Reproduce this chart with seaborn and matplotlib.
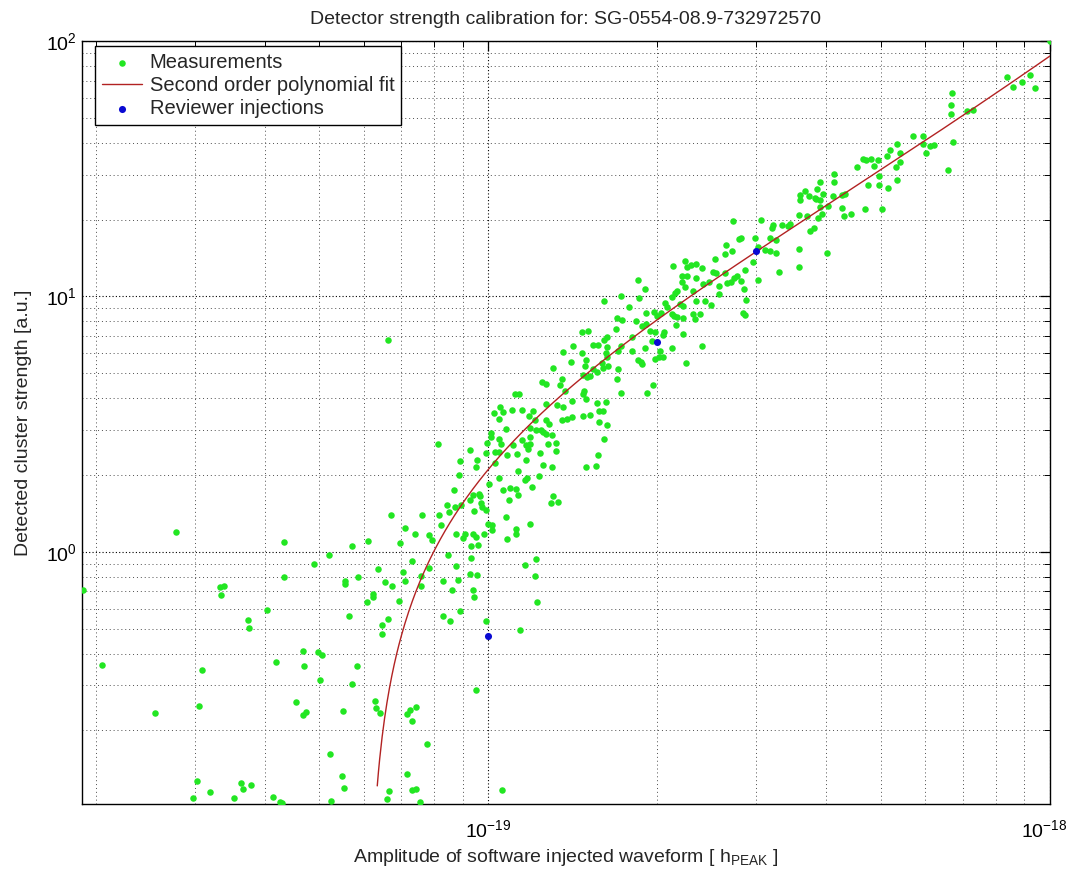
import numpy as np
import pandas as pd
import matplotlib
matplotlib.use("Agg")
import matplotlib.pyplot as plt
import matplotlib.transforms as mtransforms
import seaborn as sns
from matplotlib.ticker import LogLocator, NullFormatter, LogFormatterMathtext

# amplitudes are given in units of 1e-19 (h_peak)
AMP_UNIT = 1e-19

meas_amp = [
    0.19, 0.205, 0.255, 0.278, 0.298, 0.303, 0.306, 0.309, 0.32, 0.333,
    0.338, 0.334, 0.352, 0.363, 0.366, 0.373, 0.375, 0.378, 0.403, 0.414,
    0.418, 0.426, 0.429, 0.432, 0.433, 0.454, 0.467, 0.468, 0.470, 0.474,
    0.489, 0.498, 0.506, 0.501, 0.521, 0.523, 0.525, 0.548, 0.553, 0.550,
    0.556, 0.556, 0.565, 0.573, 0.573, 0.583, 0.586, 0.607, 0.611, 0.622,
    0.623, 0.628, 0.630, 0.635, 0.642, 0.647, 0.647, 0.654, 0.659, 0.664,
    0.665, 0.674, 0.694, 0.710, 0.717, 0.717, 0.726, 0.731, 0.731, 0.744,
    0.744, 0.756, 0.759, 0.779, 0.831, 0.831, 0.856, 0.863, 0.884, 0.889,
    0.939, 0.942, 0.951, 0.992, 1.057, 1.139, 1.223, 0.664, 1.248, 1.265,
    1.342, 1.117, 1.136, 1.370, 1.267, 1.324, 1.357, 1.408, 1.049, 1.022,
    1.063, 1.101, 1.150, 1.202, 1.182, 1.046, 1.211, 1.265, 1.283, 1.351,
    1.379, 1.409, 1.077, 1.188, 1.214, 1.243, 1.253, 1.265, 1.297, 1.010,
    1.012, 1.043, 1.150, 1.185, 1.185, 1.167, 1.178, 1.053, 1.105, 0.995,
    0.813, 0.928, 0.991, 1.028, 1.045, 1.081, 1.124, 1.236, 1.277, 1.320,
    1.320, 0.890, 0.955, 1.029, 1.166, 0.952, 1.250, 1.299, 1.131, 0.886,
    1.046, 1.161, 1.172, 1.231, 1.002, 1.198, 0.869, 1.063, 1.094, 1.119,
    1.129, 0.938, 0.963, 0.968, 0.927, 1.090, 1.304, 1.293, 1.332, 0.893,
    0.871, 0.844, 0.971, 0.976, 0.989, 0.944, 0.852, 0.816, 0.762, 0.670,
    1.075, 1.000, 1.014, 0.824, 0.712, 1.188, 1.120, 1.120, 0.940, 0.950,
    0.981, 0.876, 0.785, 0.740, 0.900, 0.795, 1.080, 0.697, 0.959, 0.932,
    0.849, 0.731, 0.930, 1.214, 1.164, 0.784, 0.877, 0.706, 0.758, 0.927,
    0.956, 1.212, 0.909, 1.014, 2.238, 2.294, 2.341, 2.256, 2.130, 2.399,
    2.537, 2.510, 2.544, 2.211, 2.259, 2.341, 2.211, 2.240, 2.415, 2.470,
    2.318, 1.850, 1.899, 1.721, 1.607, 1.855, 2.148, 2.121, 2.165, 2.066,
    2.084, 2.194, 2.225, 2.341, 2.432, 2.495, 2.572, 1.780, 1.975, 1.909,
    2.121, 2.141, 2.171, 2.219, 2.312, 2.382, 2.334, 2.028, 1.994, 2.156,
    1.693, 1.730, 1.835, 1.909, 1.876, 1.686, 1.941, 1.979, 2.058, 2.044,
    2.222, 1.469, 1.507, 1.609, 1.625, 1.801, 1.954, 1.417, 1.538, 1.566,
    1.627, 1.721, 1.901, 2.124, 2.405, 1.360, 1.469, 1.622, 1.704, 1.803,
    2.022, 1.491, 1.404, 1.592, 1.850, 1.868, 1.981, 2.016, 2.044, 1.627,
    1.632, 1.602, 1.306, 1.485, 1.536, 2.247, 1.876, 1.700, 1.519, 1.497,
    1.564, 1.476, 1.351, 1.697, 1.967, 1.915, 1.723, 1.481, 1.476, 1.491,
    1.560, 1.622, 1.517, 1.476, 1.575, 1.601, 1.573, 1.625, 1.605, 1.568,
    1.495, 1.553, 4.655, 4.70, 4.80, 4.94, 4.54, 4.87, 4.96, 4.74,
    4.97, 4.13, 4.12, 3.90, 3.85, 3.66, 3.59, 3.72, 3.81, 3.83,
    3.95, 3.90, 3.59, 4.11, 4.32, 4.27, 4.03, 3.89, 4.26, 4.68,
    3.93, 4.42, 4.29, 3.57, 3.69, 3.87, 3.06, 2.73, 3.21, 3.20,
    3.33, 3.41, 3.44, 3.80, 3.74, 2.82, 2.79, 2.99, 3.17, 3.25,
    2.65, 3.02, 2.72, 2.64, 3.11, 3.18, 3.25, 3.58, 4.01, 2.96,
    3.58, 3.29, 2.87, 2.64, 2.77, 2.82, 2.74, 2.71, 2.66, 3.02,
    2.85, 2.57, 2.88, 2.84, 2.86, 5.02, 5.14, 5.12, 5.19, 5.34,
    5.41, 5.32, 5.41, 5.34, 5.71, 5.94, 5.94, 6.02, 6.12, 6.22,
    6.58, 6.71, 6.66, 6.66, 6.70, 7.11, 7.28, 8.38, 8.58, 8.93,
    9.22, 9.41, 10.0,
]

meas_strength = [
    0.71, 0.36, 0.235, 1.2, 0.109, 0.127, 0.249, 0.345, 0.115, 0.73,
    0.735, 0.68, 0.109, 0.124, 0.118, 0.54, 0.503, 0.122, 0.59, 0.110,
    0.369, 0.105, 0.104, 1.09, 0.80, 0.259, 0.229, 0.41, 0.356, 0.236,
    0.894, 0.405, 0.396, 0.315, 0.973, 0.162, 0.106, 0.133, 0.119, 0.238,
    0.772, 0.746, 0.559, 1.056, 0.304, 0.356, 0.798, 0.638, 1.107, 0.686,
    0.664, 0.260, 0.244, 0.86, 0.233, 0.517, 0.475, 0.763, 0.108, 0.544,
    0.116, 0.733, 0.644, 0.770, 0.135, 0.232, 0.241, 0.218, 0.117, 0.118,
    0.247, 0.105, 0.733, 0.177, 0.770, 0.559, 0.538, 0.712, 0.777, 0.585,
    0.707, 0.666, 0.287, 0.538, 0.117, 0.493, 0.637, 6.76, 4.63, 4.54,
    4.49, 4.14, 4.14, 4.26, 3.81, 3.75, 3.69, 3.90, 3.69, 3.49,
    3.54, 3.59, 3.59, 3.56, 3.40, 3.30, 3.28, 3.27, 3.18, 3.27,
    3.32, 3.37, 3.04, 3.05, 3.00, 3.00, 2.96, 2.90, 2.88, 2.93,
    2.82, 2.76, 2.73, 2.82, 2.64, 2.62, 2.52, 2.64, 2.62, 2.66,
    2.64, 2.50, 2.44, 2.47, 2.46, 2.39, 2.42, 2.44, 2.64, 2.66,
    2.49, 2.27, 2.29, 2.23, 2.28, 2.14, 2.18, 2.14, 2.07, 2.00,
    1.94, 1.92, 1.94, 1.98, 1.85, 1.79, 1.74, 1.74, 1.78, 1.76,
    1.67, 1.67, 1.68, 1.65, 1.60, 1.59, 1.65, 1.56, 1.57, 1.52,
    1.50, 1.52, 1.56, 1.50, 1.46, 1.44, 1.43, 1.39, 1.40, 1.40,
    1.37, 1.29, 1.27, 1.28, 1.24, 1.29, 1.23, 1.17, 1.18, 1.14,
    1.17, 1.18, 1.16, 1.17, 1.13, 1.11, 1.12, 1.08, 1.06, 1.05,
    0.973, 0.922, 0.944, 0.935, 0.886, 0.868, 0.878, 0.832, 0.802, 0.822,
    0.815, 0.802, 1.18, 1.22, 13.8, 13.3, 13.4, 13.1, 13.2, 12.9,
    14.0, 12.5, 12.3, 12.0, 12.0, 11.8, 11.35, 10.85, 11.2, 11.35,
    10.5, 11.6, 10.7, 10.06, 9.59, 9.82, 10.3, 9.91, 10.5, 9.41,
    9.10, 9.33, 9.19, 9.61, 9.61, 9.25, 10.2, 9.10, 8.73, 8.60,
    8.50, 8.35, 8.29, 8.27, 8.52, 8.52, 8.15, 8.60, 8.35, 7.72,
    8.27, 8.10, 8.02, 7.79, 7.63, 7.44, 7.33, 7.23, 7.23, 7.05,
    7.14, 7.23, 7.33, 6.74, 6.93, 6.97, 6.70, 6.37, 6.43, 6.43,
    6.35, 6.40, 6.27, 6.31, 6.37, 6.07, 5.98, 6.03, 6.12, 6.12,
    6.12, 5.63, 5.54, 5.51, 5.64, 5.56, 5.68, 5.77, 5.82, 5.77,
    5.34, 5.27, 5.23, 5.34, 5.19, 5.48, 5.43, 5.19, 4.88, 4.84,
    5.06, 4.91, 4.77, 4.77, 4.50, 4.18, 4.18, 4.26, 4.14, 3.96,
    3.84, 3.86, 3.45, 3.40, 3.56, 3.56, 3.22, 3.13, 2.76, 2.39,
    2.14, 2.16, 34.6, 34.3, 34.6, 34.3, 32.1, 32.5, 29.7, 27.4,
    27.2, 30.2, 28.1, 28.0, 26.4, 25.9, 25.0, 24.8, 24.4, 24.1,
    25.1, 23.9, 23.9, 24.7, 25.2, 25.0, 22.7, 22.4, 22.2, 21.9,
    21.0, 21.0, 20.6, 20.8, 20.7, 20.2, 19.9, 19.7, 19.0, 18.5,
    19.0, 18.9, 19.2, 18.6, 18.1, 17.0, 16.8, 16.9, 16.9, 16.7,
    15.9, 15.6, 15.1, 14.65, 15.2, 15.1, 14.75, 15.3, 14.75, 13.7,
    13.1, 12.5, 12.7, 12.3, 12.0, 11.5, 11.8, 11.35, 11.3, 11.6,
    10.7, 11.0, 9.70, 8.58, 8.45, 22.0, 26.5, 35.6, 37.6, 39.6,
    36.4, 32.2, 33.7, 28.7, 42.3, 42.6, 39.6, 36.4, 38.75, 39.2,
    31.3, 40.2, 51.9, 56.4, 62.7, 53.0, 53.9, 72.6, 66.2, 69.1,
    73.3, 65.6, 100.0,
]

review_amp = [1.0, 2.0, 3.0]
review_strength = [0.467, 6.64, 15.0]

# second order polynomial fit coefficients
# strength = c2 * a^2 + c1 * a + c0, with a in units of 1e-19
fit_coeffs = [0.433, 4.71, -3.04]

# decade ticks that carry a label
x_decades = [1e-19, 1e-18]
y_decades = [1, 10, 100]

source_name = "SG-0554-08.9-732972570"

meas = pd.DataFrame({"amp": np.array(meas_amp) * AMP_UNIT, "strength": meas_strength})
review = pd.DataFrame({"amp": np.array(review_amp) * AMP_UNIT, "strength": review_strength})

grid = np.geomspace(min(meas_amp), max(meas_amp), 800)
fit_vals = np.polyval(fit_coeffs, grid)
keep = fit_vals > 0.11
fit = pd.DataFrame({"amp": grid[keep] * AMP_UNIT, "strength": fit_vals[keep]})

sns.set_style("white")
plt.rcParams["font.family"] = ["Liberation Sans", "DejaVu Sans"]
plt.rcParams["mathtext.fontset"] = "custom"
plt.rcParams["mathtext.rm"] = "Liberation Sans"
plt.rcParams["mathtext.it"] = "Liberation Sans:italic"

fig = plt.figure(figsize=(10.73, 8.73), dpi=100)
ax = fig.add_axes([0.0764, 0.079, 0.9021, 0.874])

sns.scatterplot(data=meas, x="amp", y="strength", ax=ax, color="#22e622",
                marker="o", s=22, linewidth=0, label="Measurements", zorder=3)
sns.lineplot(data=fit, x="amp", y="strength", ax=ax, color="#b22222",
             linewidth=1.0, sort=False, estimator=None,
             label="Second order polynomial fit", zorder=4)
sns.scatterplot(data=review, x="amp", y="strength", ax=ax, color="#0a0ad2",
                marker="o", s=26, linewidth=0, label="Reviewer injections", zorder=5)

ax.set_xscale("log")
ax.set_yscale("log")
ax.set_xlim(1.89e-20, 1.0e-18)
ax.set_ylim(0.103, 100)

ax.set_xticks(x_decades)
ax.set_yticks(y_decades)
for axis in (ax.xaxis, ax.yaxis):
    axis.set_minor_locator(LogLocator(base=10, subs=np.arange(2, 10)))
    axis.set_major_formatter(LogFormatterMathtext())
    axis.set_minor_formatter(NullFormatter())

ax.grid(True, which="major", color="black", linestyle=(0, (1, 2)), linewidth=0.8)
ax.grid(True, which="minor", color="0.3", linestyle=(0, (1, 3)), linewidth=0.7)
ax.set_axisbelow(True)

ax.tick_params(which="both", direction="in", top=True, right=True, colors="black",
               labelsize=14)
ax.tick_params(which="major", length=7, width=0.9)
ax.tick_params(which="minor", length=4, width=0.7)
ax.tick_params(axis="x", which="major", pad=11)
for sp in ax.spines.values():
    sp.set_color("black")
    sp.set_linewidth(1.0)

# nudge the rightmost decade label a little inwards so it stays on the canvas
last_lbl = ax.xaxis.get_major_ticks()[-1].label1
last_lbl.set_transform(last_lbl.get_transform()
                       + mtransforms.ScaledTranslation(-4 / 72, 0, fig.dpi_scale_trans))

ax.set_title("Detector strength calibration for: " + source_name, fontsize=14, pad=12)
ax.set_xlabel("Amplitude of software injected waveform [ h$_{\\mathrm{PEAK}}$ ]",
              fontsize=14, labelpad=4)
ax.set_ylabel("Detected cluster strength [a.u.]", fontsize=14, labelpad=10)

leg = ax.legend(loc="upper left", bbox_to_anchor=(0.0134, 0.9934), borderaxespad=0,
                fontsize=14.5, frameon=True, fancybox=False, framealpha=1,
                edgecolor="black", handlelength=2.0, handletextpad=0.36,
                borderpad=0.35, labelspacing=0.2)
leg.get_frame().set_linewidth(1.0)

fig.savefig("out.png", dpi=100)
